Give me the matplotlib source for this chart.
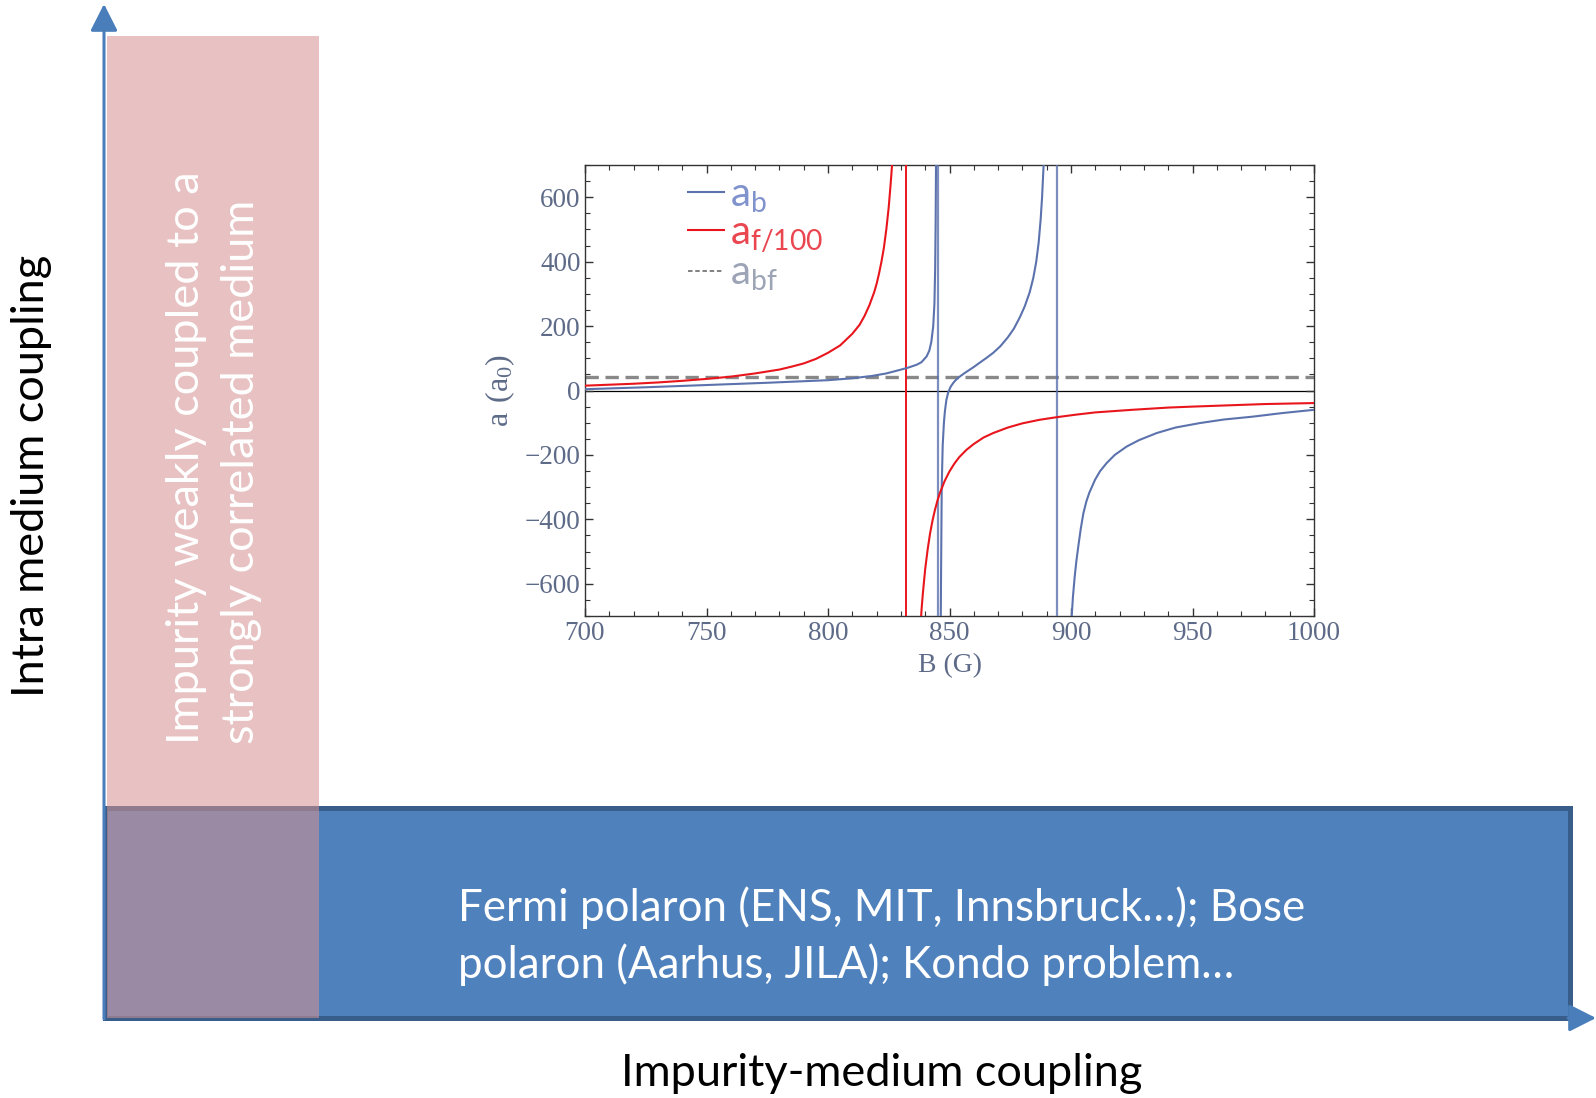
import matplotlib.pyplot as plt
from matplotlib.lines import Line2D
from matplotlib.patches import Rectangle

# scattering lengths (B in G, a in a0)
b_f_low = [700, 710, 720, 730, 740, 750, 760, 770, 780, 785, 790, 795, 800, 805, 810, 813,
           815, 817, 819, 820, 821, 822, 823, 824, 825, 825.8, 826.5, 827.2, 828]
af_low = [15, 18, 21, 25, 30, 36, 43, 53, 65, 74, 84, 98, 117, 140, 176, 204,
          231, 264, 305, 331, 363, 400, 443, 500, 570, 643, 715, 825, 985]
b_f_high = [837.6, 838.0, 838.5, 839, 840, 841, 842, 843, 844, 845, 846, 848, 850, 852, 854,
            857, 860, 864, 868, 874, 880, 887, 894, 902, 910, 925, 940, 950, 965, 980, 1000]
af_high = [-790, -740, -680, -633, -554, -494, -444, -404, -371, -343, -319, -281, -251, -227, -207,
           -184, -166, -146, -132, -115, -102, -91, -83, -75, -68, -60, -53, -50, -46, -42, -39]

b_b_low = [700, 725, 750, 775, 800, 810, 818, 824, 829.6, 833, 836.5, 838.5, 840.6, 841.7,
           842.5, 843.3, 843.8, 844.1, 844.3, 844.45, 844.6]
ab_low = [4, 10, 17, 24, 32, 38, 45, 53, 64, 71, 80, 88, 106, 124,
          150, 199, 270, 380, 520, 700, 900]
b_b_mid = [846.3, 846.5, 846.8, 847.2, 847.7, 848.1, 848.7, 849.5, 850.5, 851.5, 852.5, 854,
           856, 858, 860, 862, 865, 868, 871, 874, 876.5, 879, 881, 883, 884.5, 885.7,
           886.7, 887.5, 888.1, 888.6, 889.0, 889.5]
ab_mid = [-850, -600, -300, -170, -100, -65, -30, -5, 12, 23, 32, 42,
          53, 63, 73, 84, 100, 117, 138, 165, 192, 228, 262, 305, 350, 400,
          460, 530, 600, 680, 740, 830]
b_b_high = [899.6, 900.0, 900.3, 900.8, 901.5, 902.2, 903, 904, 905.1, 906.3, 907.5, 909.9,
            912, 914.7, 918, 922.9, 928, 935.3, 943, 953.1, 963, 975, 987, 1000]
ab_high = [-850, -760, -700, -640, -580, -530, -484, -430, -381, -345, -318, -277,
           -250, -225, -200, -174, -154, -132, -115, -101, -90, -81, -70, -60]

pole_f = [832.2]
pole_b = [845.4, 894.1]
a_bf = 42

x_ticks = [700, 750, 800, 850, 900, 950, 1000]
y_ticks = [-600, -400, -200, 0, 200, 400, 600]

W, H = 1596, 1098
fig = plt.figure(figsize=(W / 100, H / 100), dpi=100)

# slide layer in pixel coordinates
bg = fig.add_axes([0, 0, 1, 1])
bg.set_xlim(0, W)
bg.set_ylim(H, 0)
bg.axis("off")

bg.add_patch(Rectangle((104.5, 807.5), 1465, 210, facecolor="#4F81BD",
                       edgecolor="#385D8A", lw=3.6, zorder=1))
bg.add_patch(Rectangle((106.5, 36), 212.5, 982, facecolor="#D69292",
                       alpha=0.56, lw=0, zorder=2))

arrow = dict(arrowstyle="-|>,head_length=0.75,head_width=0.38", color="#4A7EBB",
             lw=2.2, mutation_scale=22, shrinkA=0, shrinkB=0)
bg.annotate("", xy=(104, 4), xytext=(104, 1019), arrowprops=arrow, zorder=3)
bg.annotate("", xy=(1596, 1018), xytext=(1568, 1018), arrowprops=arrow, zorder=3)

font = "Lato"
fs = 32.5
bg.text(32, 476, "Intra medium coupling", rotation=90, ha="center", va="center",
        fontsize=fs, family=font, color="black")
bg.text(214, 744, "Impurity weakly coupled to a\nstrongly correlated medium",
        rotation=90, ha="center", va="bottom", multialignment="left",
        fontsize=fs, family=font, color="white", linespacing=1.45, zorder=4)
bg.text(458, 936, "Fermi polaron (ENS, MIT, Innsbruck…); Bose\npolaron (Aarhus, JILA); Kondo problem…",
        ha="left", va="center", fontsize=31.6, family=font, color="white",
        linespacing=1.42, zorder=4)
bg.text(882, 1074, "Impurity-medium coupling", ha="center", va="center",
        fontsize=fs, family=font, color="black")

# inset plot
ax = fig.add_axes([585 / W, 1 - 616 / H, 729 / W, 451 / H])
blue = "#5B72AD"
red = "#E8161C"
gray = "#888888"

ax.axhline(0, color="black", lw=0.9, zorder=1)
ax.axhline(a_bf, color=gray, lw=2.4, ls=(0, (4, 2)), zorder=2)
for p in pole_f:
    ax.axvline(p, color=red, lw=1.4, zorder=3)
for p in pole_b:
    ax.axvline(p, color=blue, lw=1.6, alpha=0.8, zorder=3)

line_b, = ax.plot(b_b_low, ab_low, color=blue, lw=1.5, zorder=4)
ax.plot(b_b_mid, ab_mid, color=blue, lw=1.5, zorder=4)
ax.plot(b_b_high, ab_high, color=blue, lw=1.5, zorder=4)
line_f, = ax.plot(b_f_low, af_low, color=red, lw=1.5, zorder=5)
ax.plot(b_f_high, af_high, color=red, lw=1.5, zorder=5)
handle_bf = Line2D([], [], color="#777777", lw=1.3, ls=(0, (2.5, 1.5)))

ax.set_xlim(700, 1000)
ax.set_ylim(-700, 700)
ax.set_xticks(x_ticks)
ax.set_yticks(y_ticks)
ax.set_xticks(range(700, 1001, 10), minor=True)
ax.set_yticks(range(-700, 701, 50), minor=True)

tick_color = "#5E6B88"
serif = "Liberation Serif"
ax.tick_params(which="both", direction="in", top=True, right=True, colors="#333333",
               labelcolor=tick_color, labelsize=19.5)
ax.tick_params(which="major", length=6, width=1)
ax.tick_params(which="minor", length=3.5, width=0.8)
ax.tick_params(axis="y", pad=3)
for lab in ax.get_xticklabels() + ax.get_yticklabels():
    lab.set_family(serif)
for s in ax.spines.values():
    s.set_color("#333333")
    s.set_linewidth(1)

ax.set_xlabel("B (G)", family=serif, fontsize=20, color=tick_color, labelpad=5)
ax.set_ylabel(r"$\mathregular{a\ (a_0)}$", family=serif, fontsize=23, color=tick_color, labelpad=6)

leg = ax.legend([line_b, line_f, handle_bf],
                [r"$\mathregular{a_b}$", r"$\mathregular{a_{f/100}}$", r"$\mathregular{a_{bf}}$"],
                loc="upper left", bbox_to_anchor=(0.141, 0.975), frameon=False,
                borderpad=0, borderaxespad=0,
                handlelength=0.9, handletextpad=0.15, labelspacing=0.0,
                prop={"family": font, "size": 29},
                labelcolor=["#8093CC", "#EA4650", "#9CA4B6"])

fig.savefig("out.png", dpi=100)
